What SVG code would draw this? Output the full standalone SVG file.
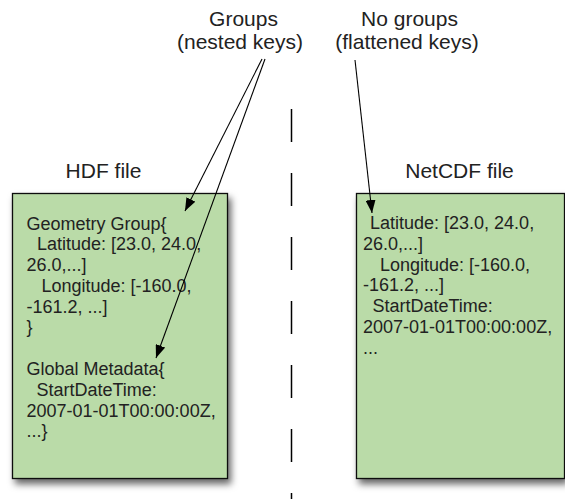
<svg xmlns="http://www.w3.org/2000/svg" width="565" height="499" viewBox="0 0 565 499">
  <style>
    .t { font-family: "Liberation Sans", Arial, sans-serif; fill: #222; }
    .title { font-size: 21px; text-anchor: middle; }
    .body { font-size: 18px; }
    .box { fill: #badba8; stroke: #111; stroke-width: 1.3; filter: url(#sh); }
    .conn { stroke: #000; stroke-width: 1.1; fill: none; marker-end: url(#ah); }
  </style>
  <defs>
    <filter id="sh" x="-10%" y="-10%" width="130%" height="130%">
      <feDropShadow dx="3" dy="5" stdDeviation="3.5" flood-color="#000" flood-opacity="0.6"/>
    </filter>
    <marker id="ah" viewBox="0 0 13 10" refX="13" refY="5" markerWidth="13" markerHeight="10" markerUnits="userSpaceOnUse" orient="auto">
      <path d="M0,0 L13,5 L0,10 z" fill="#000"/>
    </marker>
  </defs>

  <rect width="565" height="499" fill="#fff"/>

  <g id="label-groups">
    <text class="t title" x="243.5" y="26">Groups</text>
    <text class="t title" x="240" y="49">(nested keys)</text>
  </g>
  <g id="label-nogroups">
    <text class="t title" x="409.5" y="26">No groups</text>
    <text class="t title" x="407" y="49">(flattened keys)</text>
  </g>

  <g id="divider">
    <line x1="291.5" y1="109" x2="291.5" y2="499" stroke="#000" stroke-width="1.5" stroke-dasharray="33 31"/>
  </g>

  <g id="hdf">
    <text class="t title" x="103.5" y="177.5">HDF file</text>
    <rect class="box" x="12.5" y="193.5" width="215" height="285"/>
    <text class="t body" x="26.5" y="229.5">Geometry Group{</text>
    <text class="t body" x="37" y="250.3">Latitude: [23.0, 24.0,</text>
    <text class="t body" x="26.5" y="271">26.0,...]</text>
    <text class="t body" x="41.5" y="291.8">Longitude: [-160.0,</text>
    <text class="t body" x="26.5" y="312.6">-161.2, ...]</text>
    <text class="t body" x="26.5" y="333.4">}</text>
    <text class="t body" x="26.5" y="375">Global Metadata{</text>
    <text class="t body" x="36.5" y="395.8">StartDateTime:</text>
    <text class="t body" x="26.5" y="416.6">2007-01-01T00:00:00Z,</text>
    <text class="t body" x="26.5" y="437.4">...}</text>
  </g>

  <g id="netcdf">
    <text class="t title" x="459.5" y="177.5">NetCDF file</text>
    <rect class="box" x="356.5" y="193.5" width="208" height="285"/>
    <text class="t body" x="370" y="229">Latitude: [23.0, 24.0,</text>
    <text class="t body" x="363" y="249.8">26.0,...]</text>
    <text class="t body" x="380" y="270.6">Longitude: [-160.0,</text>
    <text class="t body" x="363" y="291.4">-161.2, ...]</text>
    <text class="t body" x="372.5" y="312.2">StartDateTime:</text>
    <text class="t body" x="363" y="333">2007-01-01T00:00:00Z,</text>
    <text class="t body" x="363" y="353.8">...</text>
  </g>

  <g id="connectors">
    <line class="conn" x1="262" y1="59" x2="185" y2="211"/>
    <line class="conn" x1="265" y1="59" x2="156" y2="358"/>
    <line class="conn" x1="355" y1="60" x2="372" y2="213"/>
  </g>
</svg>
